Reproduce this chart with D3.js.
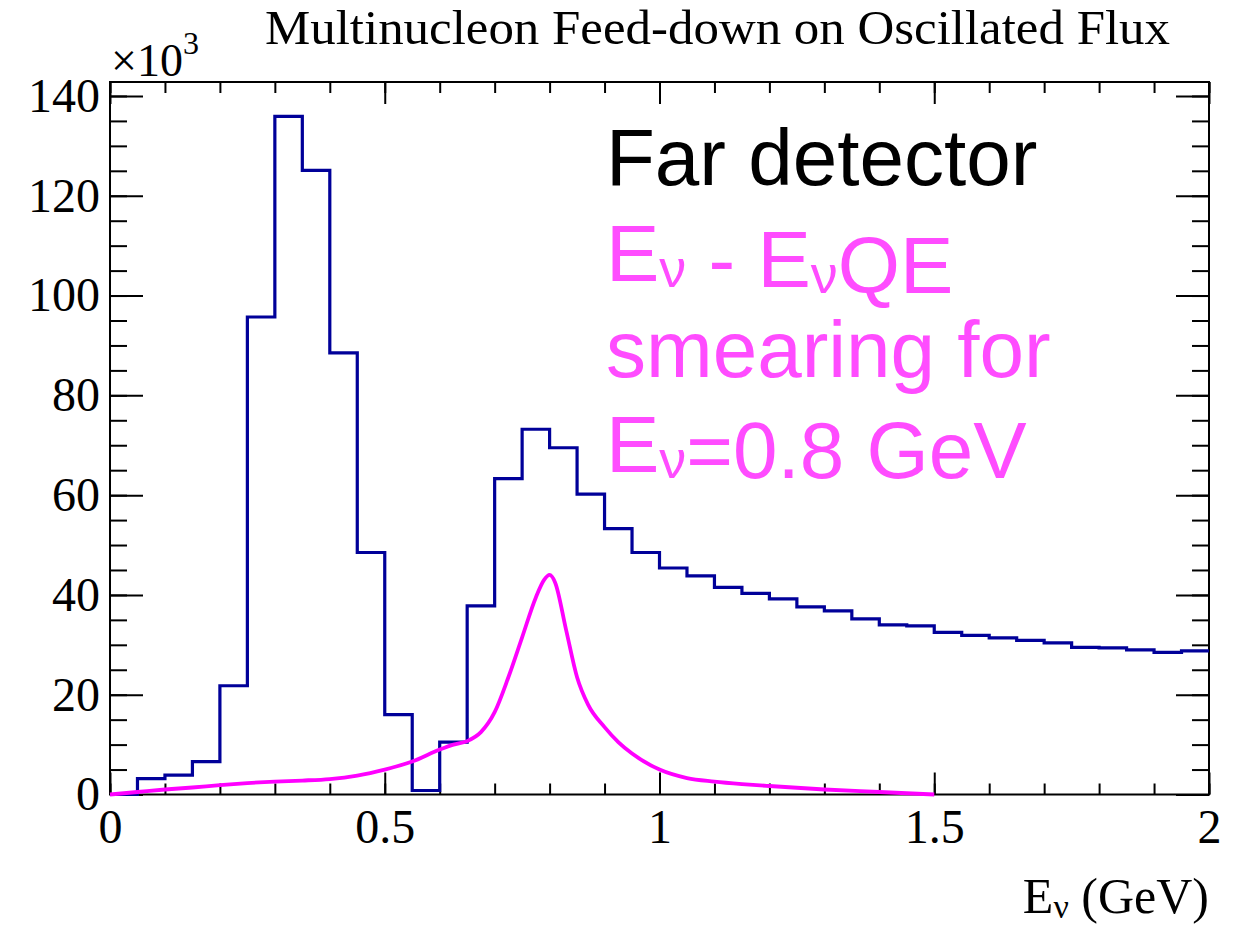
<!DOCTYPE html>
<html>
<head>
<meta charset="utf-8">
<script src="https://cdn.jsdelivr.net/npm/d3@7"></script>
<style>
  html, body { margin: 0; padding: 0; background: #fff; }
  svg { display: block; }
</style>
</head>
<body>
<svg id="chart" width="1245" height="927"></svg>
<script>
// ---- data ----
const binEdges = d3.range(0, 40).map(i => +(i * 0.05).toFixed(2));
const histValues = [0, 3.2, 3.9, 6.6, 21.8, 95.7, 135.9, 125.1, 88.5, 48.5,
                    16.0, 0.8, 10.5, 37.8, 63.3, 73.2, 69.5, 60.2, 53.3, 48.5,
                    45.4, 43.8, 41.5, 40.3, 39.2, 37.6, 36.8, 35.2, 34.0, 33.8,
                    32.5, 31.9, 31.4, 30.9, 30.4, 29.5, 29.4, 29.0, 28.5, 28.8];
const smearX = [0, 0.05, 0.1, 0.15, 0.2, 0.25, 0.3, 0.35, 0.4, 0.45, 0.5, 0.55, 0.6, 0.625, 0.65,
                0.675, 0.7, 0.725, 0.75, 0.775, 0.79, 0.8, 0.81, 0.83, 0.85, 0.87, 0.9, 0.925, 0.95,
                1.0, 1.05, 1.1, 1.15, 1.2, 1.3, 1.4, 1.5];
const smearY = [0, 0.5, 1.0, 1.4, 1.9, 2.3, 2.6, 2.8, 3.1, 3.8, 5.0, 6.6, 9.0, 10.0, 10.7,
                12.5, 16.5, 23.5, 31.5, 39.5, 43.0, 44.0, 42.5, 33.0, 23.5, 18.0, 13.5, 10.5, 8.2,
                5.0, 3.3, 2.6, 2.1, 1.7, 1.0, 0.5, 0.0];
const xTickValues = [0, 0.5, 1, 1.5, 2];
const xTickLabels = ["0", "0.5", "1", "1.5", "2"];
const yTickValues = [0, 20, 40, 60, 80, 100, 120, 140];
const yTickLabels = ["0", "20", "40", "60", "80", "100", "120", "140"];
const title = "Multinucleon Feed-down on Oscillated Flux";

// ---- layout ----
const svg = d3.select("#chart");
const L = 110, R = 1209, T = 82, B = 794.5;
const x = d3.scaleLinear().domain([0, 2]).range([L, R]);
const y = d3.scaleLinear().domain([0, 142.8]).range([B, T]);
const serif = "'Liberation Serif', 'Times New Roman', serif";
const sans = "'Liberation Sans', Arial, Helvetica, sans-serif";

// frame
svg.append("rect").attr("x", L).attr("y", T).attr("width", R - L).attr("height", B - T)
  .attr("fill", "none").attr("stroke", "#000").attr("stroke-width", 2);

// minor ticks
const xMinor = d3.range(0, 21).map(i => i * 0.1);
const yMinor = d3.range(0, 29).map(i => i * 5);
function styleAxis(g) {
  g.select(".domain").remove();
  g.selectAll(".tick line").attr("stroke", "#000").attr("stroke-width", 2);
}
svg.append("g").attr("transform", `translate(0,${B})`)
  .call(d3.axisBottom(x).tickValues(xMinor).tickSize(-11).tickFormat(""))
  .call(styleAxis);
svg.append("g").attr("transform", `translate(0,${T})`)
  .call(d3.axisTop(x).tickValues(xMinor).tickSize(-11).tickFormat(""))
  .call(styleAxis);
svg.append("g").attr("transform", `translate(${L},0)`)
  .call(d3.axisLeft(y).tickValues(yMinor).tickSize(-17).tickFormat(""))
  .call(styleAxis);
svg.append("g").attr("transform", `translate(${R},0)`)
  .call(d3.axisRight(y).tickValues(yMinor).tickSize(-17).tickFormat(""))
  .call(styleAxis);

// major ticks
const xAxisB = svg.append("g").attr("transform", `translate(0,${B})`)
  .call(d3.axisBottom(x).tickValues(xTickValues).tickSize(-22).tickPadding(14)
        .tickFormat((d, i) => xTickLabels[i]))
  .call(styleAxis);
xAxisB.selectAll("text").attr("font-family", serif).attr("font-size", 48).attr("fill", "#000");
svg.append("g").attr("transform", `translate(0,${T})`)
  .call(d3.axisTop(x).tickValues(xTickValues).tickSize(-22).tickFormat(""))
  .call(styleAxis);
const yAxisL = svg.append("g").attr("transform", `translate(${L},0)`)
  .call(d3.axisLeft(y).tickValues(yTickValues).tickSize(-33).tickPadding(10)
        .tickFormat((d, i) => yTickLabels[i]))
  .call(styleAxis);
yAxisL.selectAll("text").attr("font-family", serif).attr("font-size", 48).attr("fill", "#000");
svg.append("g").attr("transform", `translate(${R},0)`)
  .call(d3.axisRight(y).tickValues(yTickValues).tickSize(-33).tickFormat(""))
  .call(styleAxis);

// histogram
const histPts = binEdges.map((e, i) => [e, histValues[i]]);
histPts.push([2.0, histValues[histValues.length - 1]]);
svg.append("path")
  .attr("d", d3.line().x(d => x(d[0])).y(d => y(d[1])).curve(d3.curveStepAfter)(histPts))
  .attr("fill", "none").attr("stroke", "#000099").attr("stroke-width", 3.2);

// smearing curve
svg.append("path")
  .attr("d", d3.line().x((d, i) => x(smearX[i])).y((d, i) => y(smearY[i]))
        .curve(d3.curveMonotoneX)(smearX))
  .attr("fill", "none").attr("stroke", "#ff00ff").attr("stroke-width", 3.8);

// title
svg.append("text").attr("x", 265).attr("y", 44)
  .attr("textLength", 905).attr("lengthAdjust", "spacingAndGlyphs")
  .attr("font-family", serif).attr("font-size", 48).attr("fill", "#000").text(title);

// x10^3
const exp = svg.append("text").attr("x", 111).attr("y", 76)
  .attr("font-family", serif).attr("font-size", 46).attr("fill", "#000");
exp.append("tspan").text("\u00d710");
exp.append("tspan").attr("font-size", 32).attr("dy", -22).text("3");

// x axis title
const xt = svg.append("text").attr("x", R).attr("y", 913).attr("text-anchor", "end")
  .attr("font-family", serif).attr("font-size", 50).attr("fill", "#000");
xt.append("tspan").text("E");
xt.append("tspan").attr("font-size", 34).attr("dy", 5).text("\u03bd");
xt.append("tspan").attr("dy", -5).text(" (GeV)");

// annotations
svg.append("text").attr("x", 606).attr("y", 185)
  .attr("font-family", sans).attr("font-size", 80).attr("fill", "#000").text("Far detector");
const mag = "#ff4cff";
function magLine(yy, parts) {
  const t = svg.append("text").attr("x", 606).attr("y", yy)
    .attr("font-family", sans).attr("font-size", 80).attr("fill", mag);
  parts.forEach(p => {
    if (p.sub) {
      t.append("tspan").attr("font-size", 54).attr("dy", 6).text(p.sub);
      t.append("tspan").attr("dy", -6).text("");
    } else {
      t.append("tspan").text(p.t);
    }
  });
}
magLine(281, [{t: "E"}, {sub: "\u03bd"}, {t: " - E"}, {sub: "\u03bd"}, {t: "QE"}]);
magLine(377, [{t: "smearing for"}]);
magLine(472, [{t: "E"}, {sub: "\u03bd"}, {t: "=0.8 GeV"}]);
</script>
</body>
</html>
